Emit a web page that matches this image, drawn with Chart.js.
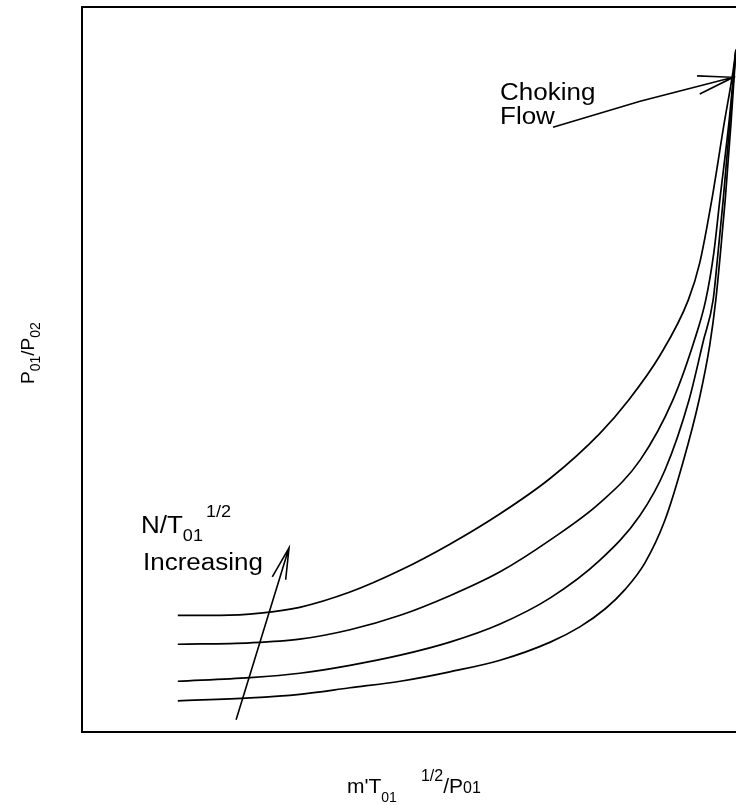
<!DOCTYPE html>
<html>
<head>
<meta charset="utf-8">
<script src="https://cdn.jsdelivr.net/npm/chart.js@4.4.0/dist/chart.umd.min.js"></script>
<style>
  html, body { margin: 0; padding: 0; background: #fff; overflow: hidden; }
  #wrap { position: relative; width: 760px; height: 805px; }
</style>
</head>
<body>
<div id="wrap"><canvas id="chart" width="760" height="805"></canvas></div>
<script>
// axes have no ticks on the original, so the units are arbitrary (0-100)
const xRange = [0, 100];
const yRange = [0, 100];

// constant speed lines, lowest to highest N/T01^1/2
const curveX1 = [14.3, 20.6, 26.6, 32.5, 40.0, 47.5, 54.9, 62.4, 69.9, 77.3, 81.6, 86.3, 90.5, 92.2, 94.0, 95.8, 97.2, 97.6];
const curveY1 = [16.1, 16.1, 16.4, 17.2, 19.3, 22.3, 25.9, 30.1, 35.0, 41.2, 45.8, 52.0, 59.6, 64.7, 73.4, 83.7, 91.3, 94.1];

const curveX2 = [14.3, 25.1, 32.5, 40.0, 47.5, 54.9, 62.4, 69.9, 77.3, 83.3, 88.2, 91.5, 93.1, 94.3, 95.2, 96.6, 97.6];
const curveY2 = [12.1, 12.3, 12.8, 14.1, 16.1, 18.8, 22.1, 26.5, 31.6, 37.5, 45.8, 54.3, 59.6, 66.1, 73.4, 84.4, 94.1];

const curveX3 = [14.3, 25.1, 32.5, 40.0, 47.5, 54.9, 62.4, 69.9, 77.3, 83.3, 87.0, 90.6, 92.7, 94.2, 94.9, 95.7, 96.6, 97.6];
const curveY3 = [7.0, 7.5, 8.1, 9.2, 10.6, 12.4, 14.9, 18.5, 23.7, 29.9, 36.1, 45.8, 53.8, 59.6, 65.8, 73.4, 83.0, 94.1];

const curveX4 = [14.3, 25.1, 32.5, 40.0, 47.5, 54.9, 62.4, 69.9, 74.3, 78.1, 81.0, 84.0, 87.0, 89.7, 92.1, 93.7, 94.6, 95.4, 96.0, 96.9, 97.6];
const curveY4 = [4.3, 4.7, 5.2, 6.1, 7.0, 8.3, 9.9, 12.4, 14.5, 17.0, 19.6, 23.3, 29.2, 37.2, 45.8, 53.4, 59.6, 67.2, 73.4, 84.4, 94.1];

// annotation arrows (null = pen up)
const chokeArrowX = [70.3, 83.3, 97.2, null, 91.8, 97.2, 92.2];
const chokeArrowY = [83.4, 87.0, 90.3, null, 90.5, 90.3, 88.0];
const speedArrowX = [23.0, 30.9, null, 28.4, 30.9, 30.4];
const speedArrowY = [1.7, 25.4, null, 21.4, 25.4, 21.0];

const FONT = '"Liberation Sans", Arial, Helvetica, sans-serif';

function toPoints(xs, ys) {
    return xs.map((x, i) => ({ x: x === null ? xs[i - 1] : x, y: ys[i] }));
}

function curve(xs, ys) {
    return {
        data: toPoints(xs, ys),
        borderColor: '#000',
        borderWidth: 1.7,
        pointRadius: 0,
        cubicInterpolationMode: 'monotone',
        fill: false
    };
}

function arrow(xs, ys) {
    return {
        data: toPoints(xs, ys),
        borderColor: '#000',
        borderWidth: 1.6,
        pointRadius: 0,
        tension: 0,
        spanGaps: false,
        fill: false
    };
}

// draw a run of text pieces (for sub/superscripts), sx = horizontal stretch
function drawParts(ctx, x, y, parts, sx) {
    sx = sx || 1;
    parts.forEach(p => {
        ctx.font = p.size + 'px ' + FONT;
        x += p.gap || 0;
        ctx.save();
        ctx.translate(x, y + (p.dy || 0));
        ctx.scale(sx, 1);
        ctx.fillText(p.t, 0, 0);
        ctx.restore();
        x += ctx.measureText(p.t).width * sx;
    });
}

const framePlugin = {
    id: 'frame',
    afterDraw(chart) {
        const { ctx, chartArea: a } = chart;
        ctx.save();
        ctx.strokeStyle = '#000';
        ctx.lineWidth = 2;
        ctx.beginPath();
        ctx.moveTo(a.right + 10, a.top);
        ctx.lineTo(a.left, a.top);
        ctx.lineTo(a.left, a.bottom);
        ctx.lineTo(a.right + 10, a.bottom);
        ctx.stroke();
        ctx.restore();
    }
};

const textPlugin = {
    id: 'texts',
    afterDraw(chart) {
        const ctx = chart.ctx;
        ctx.save();
        ctx.fillStyle = '#000';
        ctx.textBaseline = 'alphabetic';

        drawParts(ctx, 500, 100, [{ t: 'Choking', size: 23 }], 1.13);
        drawParts(ctx, 500, 124, [{ t: 'Flow', size: 23 }], 1.13);

        drawParts(ctx, 141, 533, [
            { t: 'N/T', size: 23 },
            { t: '01', size: 16, dy: 8 },
            { t: '1/2', size: 16, dy: -16, gap: 3 }
        ], 1.13);
        drawParts(ctx, 143, 570, [{ t: 'Increasing', size: 23 }], 1.13);

        drawParts(ctx, 347, 793, [
            { t: "m'T", size: 21 },
            { t: '01', size: 14, dy: 9 },
            { t: '1/2', size: 16, dy: -12, gap: 24 },
            { t: '/P', size: 21 },
            { t: '01', size: 16 }
        ]);

        ctx.translate(34, 384);
        ctx.rotate(-Math.PI / 2);
        drawParts(ctx, 0, 0, [
            { t: 'P', size: 19 },
            { t: '01', size: 14, dy: 6 },
            { t: '/P', size: 19 },
            { t: '02', size: 14, dy: 6 }
        ]);
        ctx.restore();
    }
};

new Chart(document.getElementById('chart'), {
    type: 'line',
    data: {
        datasets: [
            curve(curveX1, curveY1),
            curve(curveX2, curveY2),
            curve(curveX3, curveY3),
            curve(curveX4, curveY4),
            arrow(chokeArrowX, chokeArrowY),
            arrow(speedArrowX, speedArrowY)
        ]
    },
    options: {
        responsive: false,
        animation: false,
        devicePixelRatio: 1,
        layout: { padding: { left: 82, top: 7, right: 8, bottom: 73 } },
        scales: {
            x: { type: 'linear', min: xRange[0], max: xRange[1], display: false },
            y: { type: 'linear', min: yRange[0], max: yRange[1], display: false }
        },
        plugins: {
            legend: { display: false },
            tooltip: { enabled: false }
        }
    },
    plugins: [framePlugin, textPlugin]
});
</script>
</body>
</html>
